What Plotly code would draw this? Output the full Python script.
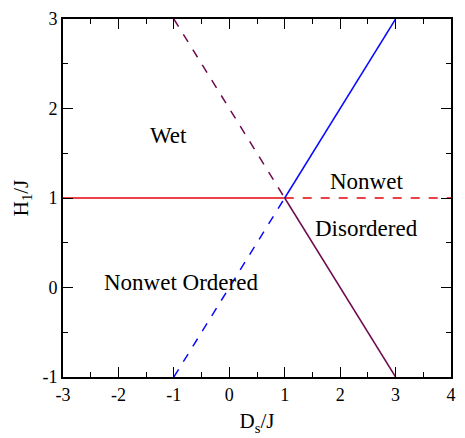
import plotly.graph_objects as go

# Phase boundaries in the (D_s/J, H_1/J) plane
red_solid_x = [-3, 1]
red_solid_y = [1, 1]
red_dash_x = [1, 4]
red_dash_y = [1, 1]

blue_dash_x = [-1, 1]
blue_dash_y = [-1, 1]
blue_solid_x = [1, 3]
blue_solid_y = [1, 3]

purple_dash_x = [-1, 1]
purple_dash_y = [3, 1]
purple_solid_x = [1, 3]
purple_solid_y = [1, -1]

# Region labels
label_text = ["Wet", "Nonwet", "Disordered", "Nonwet Ordered"]
label_x = [-1.1, 2.48, 2.48, -0.87]
label_y = [1.7, 1.18, 0.66, 0.06]

x_ticks = [-3, -2, -1, 0, 1, 2, 3, 4]
y_ticks = [-1, 0, 1, 2, 3]

RED = "#e8000b"
BLUE = "#0a0aff"
PURPLE = "#6e0a4e"
FONT = "Liberation Serif"

fig = go.Figure()

segments = [
    (red_solid_x, red_solid_y, RED, "solid"),
    (red_dash_x, red_dash_y, RED, "dash"),
    (blue_dash_x, blue_dash_y, BLUE, "dash"),
    (blue_solid_x, blue_solid_y, BLUE, "solid"),
    (purple_dash_x, purple_dash_y, PURPLE, "dash"),
    (purple_solid_x, purple_solid_y, PURPLE, "solid"),
]
for xs, ys, color, dash in segments:
    fig.add_trace(go.Scatter(
        x=xs, y=ys, mode="lines",
        line=dict(color=color, width=1.5, dash=dash),
        showlegend=False, hoverinfo="skip",
    ))

for t, x, y in zip(label_text, label_x, label_y):
    fig.add_annotation(x=x, y=y, text=t, showarrow=False,
                       font=dict(family=FONT, size=23, color="black"))

axis_common = dict(
    showgrid=False, zeroline=False,
    showline=True, linecolor="black", linewidth=2,
    mirror="ticks", ticks="inside", ticklen=10, tickwidth=1.2,
    tickcolor="black",
    tickfont=dict(family=FONT, size=18, color="black"),
)
minor_ticks = dict(dtick=0.5, ticks="inside", ticklen=5, tickwidth=1.2, tickcolor="black")

fig.update_xaxes(
    range=[-3, 4], tickvals=x_ticks, ticktext=[str(v) for v in x_ticks],
    minor=minor_ticks,
    title=dict(text="D<sub>s</sub>/J", font=dict(family=FONT, size=21, color="black"), standoff=10),
    **axis_common,
)
fig.update_yaxes(
    range=[-1, 3], tickvals=y_ticks, ticktext=[str(v) for v in y_ticks],
    minor=minor_ticks,
    title=dict(text="H<sub>1</sub>/J", font=dict(family=FONT, size=21, color="black"), standoff=8),
    **axis_common,
)

fig.update_layout(
    width=465, height=438,
    margin=dict(l=63, r=9, t=10, b=58),
    paper_bgcolor="white", plot_bgcolor="white",
)

fig.write_html("out.html")
